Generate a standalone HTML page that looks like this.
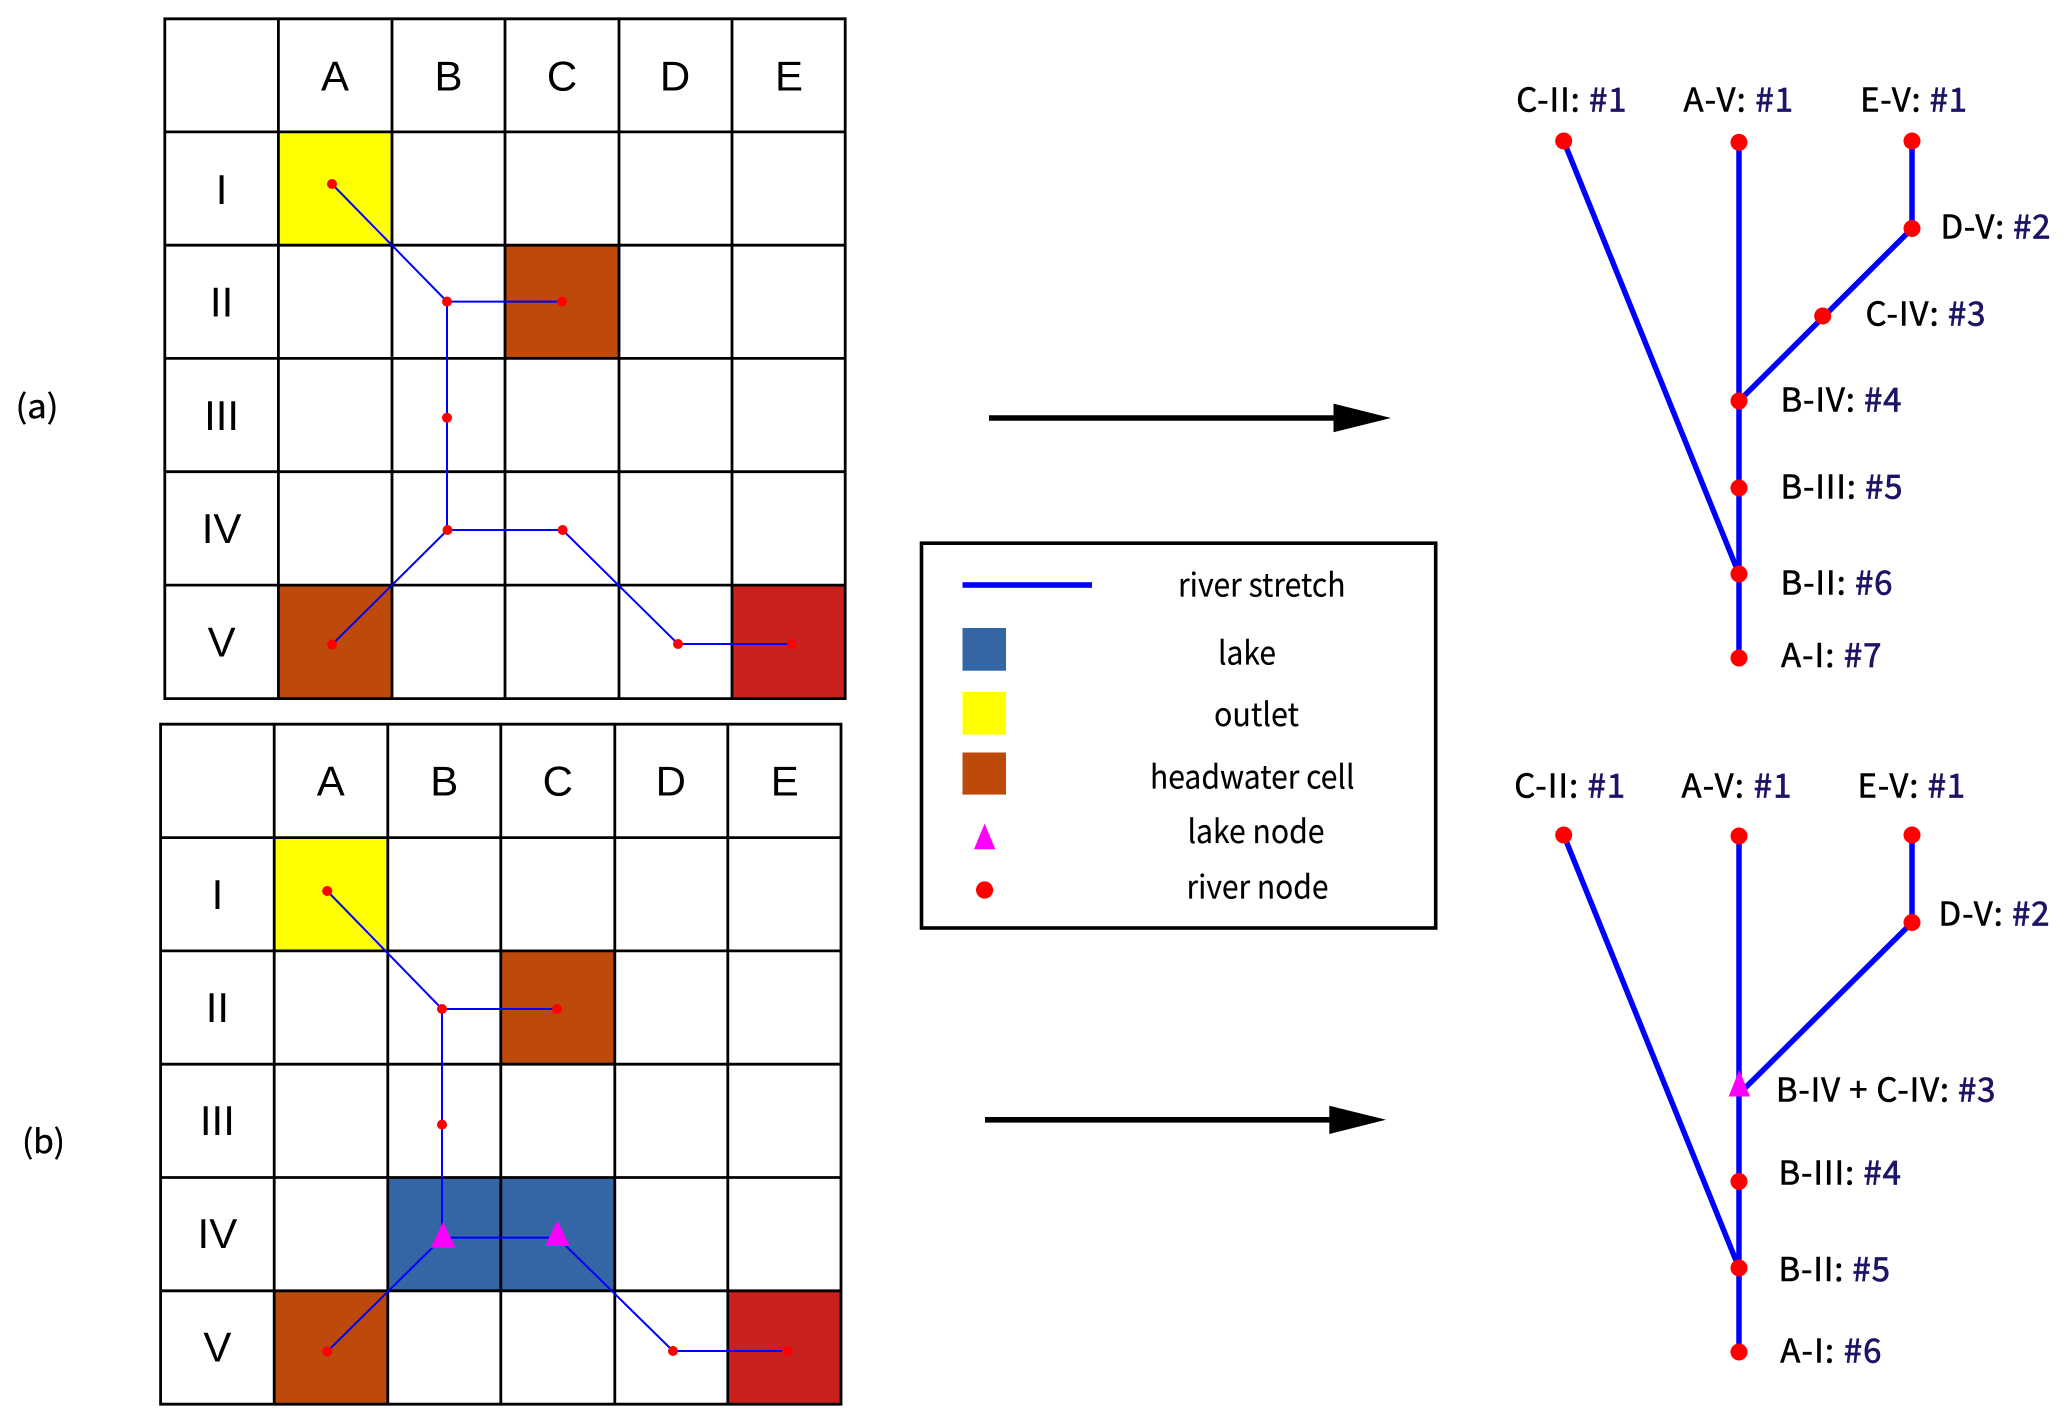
<!DOCTYPE html>
<html><head><meta charset="utf-8"><style>
html,body{margin:0;padding:0;background:#fff}
svg{display:block}
.g{font-family:"Liberation Sans",sans-serif;font-size:42px;text-anchor:middle;fill:#000}
.t{font-family:"Liberation Sans","Noto Sans CJK SC",sans-serif;font-size:33px;font-weight:400;fill:#000;stroke:#000;stroke-width:.55px}
.l{font-family:"Liberation Sans","Noto Sans CJK SC",sans-serif;font-size:32.5px;font-weight:400;fill:#000;stroke:#000;stroke-width:.15px}
.t,.l{font-family:"Noto Sans CJK SC",sans-serif}
.n{fill:#1c1464;stroke:#1c1464;stroke-width:.7px}
</style></head><body>
<svg width="2067" height="1423" viewBox="0 0 2067 1423" xmlns="http://www.w3.org/2000/svg">
<rect width="2067" height="1423" fill="#fff"/>

<!-- Grid A -->
<g>
<rect x="278.4" y="131.8" width="113.4" height="113.3" fill="#ffff00"/>
<rect x="505" y="245" width="113.6" height="113.3" fill="#bd490a"/>
<rect x="278.4" y="585" width="113.4" height="113.4" fill="#bd490a"/>
<rect x="732" y="585" width="113.4" height="113.4" fill="#c9211e"/>
<path d="M164.8 18.8V698.6M278.4 18.8V698.6M392 18.8V698.6M505 18.8V698.6M619 18.8V698.6M732 18.8V698.6M845.2 18.8V698.6M164.8 18.8H845.2M164.8 131.9H845.2M164.8 245.2H845.2M164.8 358.4H845.2M164.8 471.7H845.2M164.8 585.1H845.2M164.8 698.6H845.2" fill="none" stroke="#000" stroke-width="2.8" stroke-linecap="square"/>
<text class="g" x="335" y="90.5">A</text><text class="g" x="448.5" y="90.5">B</text><text class="g" x="562" y="90.5">C</text><text class="g" x="675" y="90.5">D</text><text class="g" x="789" y="90.5">E</text>
<text class="g" x="221.6" y="204">I</text><text class="g" x="221.6" y="316.7">II</text><text class="g" x="221.6" y="430">III</text><text class="g" x="221.6" y="543">IV</text><text class="g" x="221.6" y="656.5">V</text>
<path d="M332 184L447 301.6H562M447 301.6V530H562.6L678 644H792M332 644.6L447.5 530" fill="none" stroke="#0000ff" stroke-width="2"/>
<g fill="#ff0000">
<circle cx="332" cy="184" r="5"/><circle cx="447" cy="301.6" r="5"/><circle cx="562" cy="301.6" r="5"/><circle cx="447" cy="417.8" r="5"/><circle cx="447.5" cy="530" r="5"/><circle cx="562.6" cy="530" r="5"/><circle cx="678" cy="644" r="5"/><circle cx="792" cy="644" r="5"/><circle cx="332" cy="644.6" r="5"/>
</g>
</g>

<!-- Grid B -->
<g>
<rect x="274.2" y="837.6" width="113.4" height="113.3" fill="#ffff00"/>
<rect x="500.8" y="950.9" width="113.6" height="113.3" fill="#bd490a"/>
<rect x="274.2" y="1290.8" width="113.4" height="113.4" fill="#bd490a"/>
<rect x="727.8" y="1290.8" width="113.2" height="113.4" fill="#c9211e"/>
<rect x="387.8" y="1177.5" width="226.6" height="113.3" fill="#3465a4"/>
<path d="M160.6 724.2V1404.2M274.2 724.2V1404.2M387.8 724.2V1404.2M500.8 724.2V1404.2M614.8 724.2V1404.2M727.8 724.2V1404.2M841 724.2V1404.2M160.6 724.2H841M160.6 837.6H841M160.6 950.9H841M160.6 1064.2H841M160.6 1177.5H841M160.6 1290.8H841M160.6 1404.2H841" fill="none" stroke="#000" stroke-width="2.8" stroke-linecap="square"/>
<text class="g" x="330.8" y="795.7">A</text><text class="g" x="444.3" y="795.7">B</text><text class="g" x="557.8" y="795.7">C</text><text class="g" x="670.8" y="795.7">D</text><text class="g" x="784.8" y="795.7">E</text>
<text class="g" x="217.4" y="909.2">I</text><text class="g" x="217.4" y="1021.9">II</text><text class="g" x="217.4" y="1135.2">III</text><text class="g" x="217.4" y="1248.2">IV</text><text class="g" x="217.4" y="1361.7">V</text>
<path d="M327.2 891L442 1009H557M442 1009V1237.6H557.5L673 1351H787M327.2 1351.5L442.5 1237.6" fill="none" stroke="#0000ff" stroke-width="2"/>
<g fill="#ff0000">
<circle cx="327.2" cy="891" r="5"/><circle cx="442" cy="1009" r="5"/><circle cx="557" cy="1009" r="5"/><circle cx="442" cy="1124.6" r="5"/><circle cx="673" cy="1351" r="5"/><circle cx="787" cy="1351" r="5"/><circle cx="327.2" cy="1351.5" r="5"/>
</g>
<polygon points="443,1222 431,1247.7 455.5,1247.7" fill="#ff00ff"/>
<polygon points="557.5,1220.5 545,1246 569.5,1246" fill="#ff00ff"/>
</g>

<text class="l" x="15.5" y="418" textLength="43" lengthAdjust="spacingAndGlyphs" style="stroke-width:.4px">(a)</text>
<text class="l" x="22" y="1153" textLength="43" lengthAdjust="spacingAndGlyphs" style="stroke-width:.4px">(b)</text>

<!-- Arrows -->
<path d="M989 418H1340" stroke="#000" stroke-width="5.6" fill="none"/>
<polygon points="1333.5,403.6 1391,418 1333.5,432.2" fill="#000"/>
<path d="M985 1119.8H1335" stroke="#000" stroke-width="5.6" fill="none"/>
<polygon points="1329.3,1105.7 1386,1119.8 1329.3,1134" fill="#000"/>

<!-- Legend -->
<rect x="921.5" y="543.2" width="514.2" height="384.8" fill="#fff" stroke="#000" stroke-width="3.6"/>
<rect x="962.5" y="582.2" width="129.5" height="5.6" fill="#0000ff"/>
<rect x="962.5" y="628" width="43.5" height="42.7" fill="#3465a4"/>
<rect x="962.5" y="692" width="43.5" height="42.6" fill="#ffff00"/>
<rect x="962.5" y="752.5" width="43.5" height="42.1" fill="#bd490a"/>
<polygon points="984.6,823.6 974,849.3 995.4,849.3" fill="#ff00ff"/>
<circle cx="984.6" cy="890" r="8.6" fill="#ff0000"/>
<text class="l" x="1178" y="596.5" textLength="167.5" lengthAdjust="spacingAndGlyphs">river stretch</text>
<text class="l" x="1218" y="664.5" textLength="58" lengthAdjust="spacingAndGlyphs">lake</text>
<text class="l" x="1214" y="726" textLength="85" lengthAdjust="spacingAndGlyphs">outlet</text>
<text class="l" x="1150" y="788.5" textLength="204.5" lengthAdjust="spacingAndGlyphs">headwater cell</text>
<text class="l" x="1187.5" y="843" textLength="137" lengthAdjust="spacingAndGlyphs">lake node</text>
<text class="l" x="1186.5" y="898.5" textLength="142" lengthAdjust="spacingAndGlyphs">river node</text>

<!-- Tree A -->
<path d="M1563.7 141L1739 574M1739 142.4V658M1912 141V228.5L1739 401" fill="none" stroke="#0000ff" stroke-width="5.5"/>
<g fill="#ff0000">
<circle cx="1563.7" cy="141" r="8.5"/><circle cx="1739" cy="142.4" r="8.5"/><circle cx="1912" cy="141" r="8.5"/><circle cx="1912" cy="228.5" r="8.5"/><circle cx="1822.7" cy="316" r="8.5"/><circle cx="1739" cy="401" r="8.5"/><circle cx="1739" cy="488" r="8.5"/><circle cx="1739" cy="574" r="8.5"/><circle cx="1739" cy="658" r="8.5"/>
</g>
<text class="t" x="1516.2" y="111.5" textLength="110.3">C-II: <tspan class="n">#1</tspan></text>
<text class="t" x="1683.5" y="111.5" textLength="109.6">A-V: <tspan class="n">#1</tspan></text>
<text class="t" x="1860.1" y="111.5" textLength="106.9">E-V: <tspan class="n">#1</tspan></text>
<text class="t" x="1940.5" y="238.5" textLength="110">D-V: <tspan class="n">#2</tspan></text>
<text class="t" x="1865.5" y="325.5" textLength="120">C-IV: <tspan class="n">#3</tspan></text>
<text class="t" x="1780.5" y="411.5" textLength="121">B-IV: <tspan class="n">#4</tspan></text>
<text class="t" x="1780.5" y="498.5" textLength="122">B-III: <tspan class="n">#5</tspan></text>
<text class="t" x="1780.5" y="594.5" textLength="112">B-II: <tspan class="n">#6</tspan></text>
<text class="t" x="1781" y="667" textLength="100.5">A-I: <tspan class="n">#7</tspan></text>

<!-- Tree B -->
<path d="M1563.7 835L1739 1268M1739 836V1352M1912 835V922.5L1739 1094" fill="none" stroke="#0000ff" stroke-width="5.5"/>
<g fill="#ff0000">
<circle cx="1563.7" cy="835" r="8.5"/><circle cx="1739" cy="836" r="8.5"/><circle cx="1912" cy="835" r="8.5"/><circle cx="1912" cy="922.5" r="8.5"/><circle cx="1739" cy="1181.5" r="8.5"/><circle cx="1739" cy="1268" r="8.5"/><circle cx="1739" cy="1352" r="8.5"/>
</g>
<polygon points="1739.3,1070 1728.6,1096.5 1750,1096.5" fill="#ff00ff"/>
<text class="t" x="1514.2" y="797.5" textLength="110.9">C-II: <tspan class="n">#1</tspan></text>
<text class="t" x="1681.5" y="797.5" textLength="110">A-V: <tspan class="n">#1</tspan></text>
<text class="t" x="1857.5" y="797.5" textLength="107.6">E-V: <tspan class="n">#1</tspan></text>
<text class="t" x="1938.5" y="925.5" textLength="111">D-V: <tspan class="n">#2</tspan></text>
<text class="t" x="1775.9" y="1101.5" textLength="219.6">B-IV + C-IV: <tspan class="n">#3</tspan></text>
<text class="t" x="1778.5" y="1184.5" textLength="122.4">B-III: <tspan class="n">#4</tspan></text>
<text class="t" x="1778.5" y="1281" textLength="111.4">B-II: <tspan class="n">#5</tspan></text>
<text class="t" x="1780.3" y="1362.5" textLength="101.2">A-I: <tspan class="n">#6</tspan></text>
</svg>
</body></html>
